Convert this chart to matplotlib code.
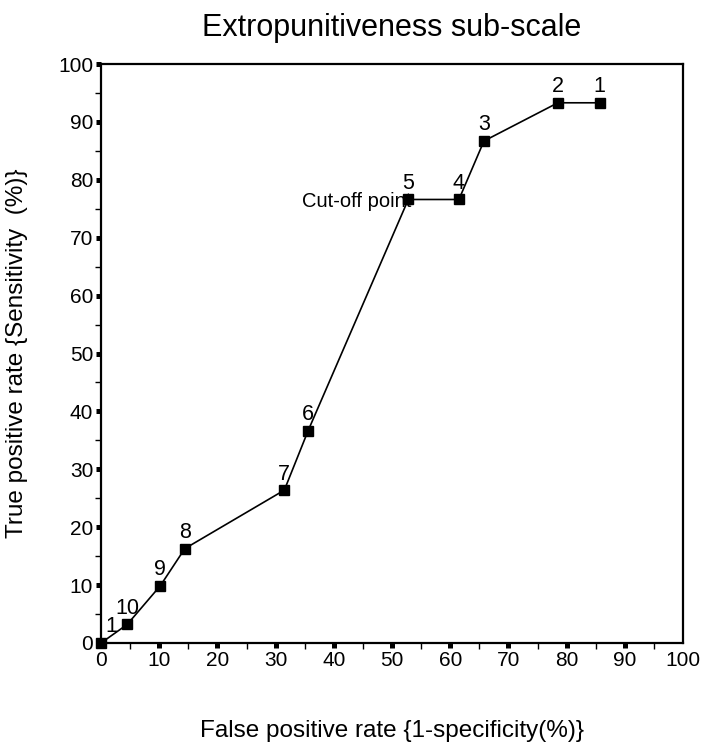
import matplotlib
matplotlib.use("Agg")
import matplotlib.pyplot as plt
from matplotlib.ticker import MultipleLocator

plt.rcParams['font.family'] = ['Liberation Sans', 'DejaVu Sans']

fpr = [0, 4.5, 10.2, 14.4, 31.5, 35.6, 52.8, 61.5, 65.8, 78.5, 85.7]
tpr = [0, 3.2, 9.9, 16.3, 26.4, 36.7, 76.6, 76.6, 86.7, 93.3, 93.3]
point_labels = ["1", "10", "9", "8", "7", "6", "5", "4", "3", "2", "1"]
x_ticks = [0, 10, 20, 30, 40, 50, 60, 70, 80, 90, 100]
y_ticks = [0, 10, 20, 30, 40, 50, 60, 70, 80, 90, 100]

fig = plt.figure(figsize=(7.04, 7.53), dpi=100)
ax = fig.add_axes([101/704, 1-643/753, (683-101)/704, (643-64)/753])

ax.plot(fpr, tpr, color='black', lw=1.2, marker='s', ms=6.5, mfc='black', mec='black',
        clip_on=False, zorder=3)

for i, (x, y, t) in enumerate(zip(fpr, tpr, point_labels)):
    if i == 0:
        ax.annotate(t, (x, y), xytext=(3, 4), textcoords='offset points',
                    ha='left', va='bottom', fontsize=15.5)
    else:
        ax.annotate(t, (x, y), xytext=(0, 4), textcoords='offset points',
                    ha='center', va='bottom', fontsize=15.5)

ax.annotate("Cut-off point", (fpr[6], tpr[6]), xytext=(2, -1.5), textcoords='offset points',
            ha='right', va='center', fontsize=14.5)

ax.set_xlim(0, 100)
ax.set_ylim(0, 100)
ax.set_xticks(x_ticks)
ax.set_yticks(y_ticks)
ax.xaxis.set_minor_locator(MultipleLocator(5))
ax.yaxis.set_minor_locator(MultipleLocator(5))
ax.tick_params(which='major', direction='out', length=3.6, width=3.6, labelsize=15, pad=2)
ax.tick_params(which='minor', direction='out', length=4.5, width=1.0)
ax.xaxis.get_major_ticks()[-1].tick1line.set_visible(False)

for s in ax.spines.values():
    s.set_linewidth(1.6)

ax.set_title("Extropunitiveness sub-scale", fontsize=22, pad=20)
ax.set_xlabel("False positive rate {1-specificity(%)}", fontsize=17.5, labelpad=36)
ax.set_ylabel("True positive rate {Sensitivity  (%)}", fontsize=17.5, labelpad=22)

fig.savefig("out.png", dpi=100)
